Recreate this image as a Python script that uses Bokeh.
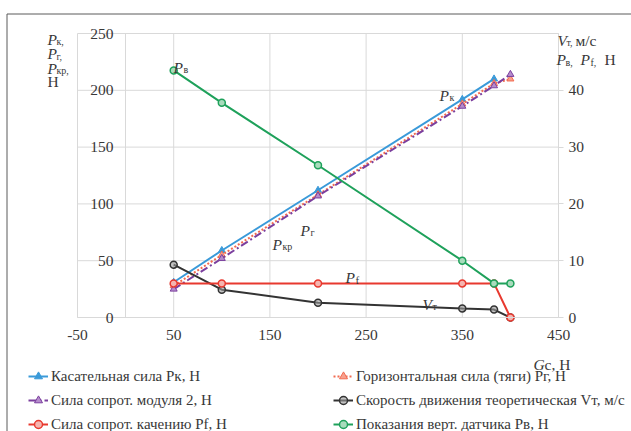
from bokeh.plotting import figure
from bokeh.models import (LinearAxis, Range1d, FixedTicker, Legend,
                          LegendItem, Label)
from bokeh.embed import file_html
from bokeh.resources import INLINE

# ---------------- data ----------------
G_c = [50, 100, 200, 350, 383, 400]
G_k = [50, 100, 200, 350, 383]
P_k = [31, 59, 112, 192, 210]            # left axis, N
P_g = [28, 55, 108, 188, 206, 210]       # left axis, N
P_kr = [25, 52, 107, 186, 204, 214]      # left axis, N
V_t = [9.3, 4.9, 2.6, 1.6, 1.4, 0]       # right axis, m/s
P_f = [6, 6, 6, 6, 6, 0]                 # right axis
P_v = [43.5, 37.8, 26.8, 10, 6, 6]       # right axis

x_ticks = [-50, 50, 150, 250, 350, 450]
y_ticks = [0, 50, 100, 150, 200, 250]
y2_ticks = [0, 10, 20, 30, 40]

names = ["Касательная сила Pк, Н", "Горизонтальная сила (тяги) Pг, Н",
         "Сила сопрот. модуля 2, Н", "Скорость движения теоретическая Vт, м/с",
         "Сила сопрот. качению Pf, Н", "Показания верт. датчика Pв, Н"]

FONT = "Liberation Serif"
TXT = "#383838"
GRID = "#d9d9d9"

# ---------------- layout (page pixels) ----------------
PX0, PY0 = 0, 0            # canvas origin on the page
CW, CH = 631, 431          # canvas size
FL, FR, FT, FB = 77, 558, 33, 317   # chart area on the page
XMIN, XMAX, YMIN, YMAX = -50, 450, 0, 250
kx = (FR - FL) / (XMAX - XMIN)
ky = (FB - FT) / (YMAX - YMIN)

x_range = Range1d(XMIN + (PX0 - FL) / kx, XMIN + (PX0 + CW - FL) / kx)
y_range = Range1d((FB - (PY0 + CH)) / ky, (FB - PY0) / ky)

p = figure(width=CW, height=CH, x_range=x_range, y_range=y_range,
           x_axis_location=None, y_axis_location=None,
           toolbar_location=None, output_backend="svg", min_border=0,
           outline_line_color=None, background_fill_color="white",
           border_fill_color="white")
p.xgrid.visible = False
p.ygrid.visible = False
p.extra_y_ranges = {"right": Range1d(y_range.start / 5, y_range.end / 5)}

# grid lines
p.segment(x0=x_ticks, y0=[YMIN] * len(x_ticks), x1=x_ticks, y1=[YMAX] * len(x_ticks),
          line_color=GRID, line_width=1)
p.segment(x0=[XMIN] * len(y_ticks), y0=y_ticks, x1=[XMAX] * len(y_ticks), y1=y_ticks,
          line_color=GRID, line_width=1)


# outer chart border (top and left)
def page_x(px):
    return XMIN + (px - FL) / kx


def page_y(py):
    return (FB - py) / ky


p.segment(x0=[page_x(6.5), page_x(6.5)], y0=[page_y(13.5), page_y(13.5)],
          x1=[page_x(PX0 + CW), page_x(6.5)], y1=[page_y(13.5), page_y(PY0 + CH)],
          line_color="#5a5a5a", line_width=1)


def style_axis(ax, ticks):
    ax.major_label_text_font = FONT
    ax.major_label_text_font_size = "15.5px"
    ax.major_label_text_color = TXT
    ax.axis_line_color = GRID
    ax.minor_tick_line_color = None
    ax.major_tick_in = 0
    ax.major_label_overrides = {t: str(t) for t in ticks}


xax = LinearAxis(ticker=FixedTicker(ticks=x_ticks), fixed_location=0,
                 bounds=(XMIN, XMAX))
style_axis(xax, x_ticks)
xax.major_tick_out = 0
xax.major_label_standoff = 12
p.add_layout(xax, "below")

yax = LinearAxis(ticker=FixedTicker(ticks=y_ticks), fixed_location=0,
                 bounds=(YMIN, YMAX))
style_axis(yax, y_ticks)
yax.major_tick_out = 0
yax.major_label_standoff = 12
p.add_layout(yax, "left")

y2ax = LinearAxis(y_range_name="right", ticker=FixedTicker(ticks=y2_ticks),
                  fixed_location=XMAX, bounds=(0, 50))
style_axis(y2ax, y2_ticks)
y2ax.major_tick_out = 5
y2ax.major_tick_line_color = GRID
y2ax.major_label_standoff = 5
p.add_layout(y2ax, "right")

# ---------------- series ----------------
c_k, c_g, c_kr, c_v, c_f, c_pv = "#3a9ad9", "#f26b50", "#7b3f9e", "#333333", "#e8392f", "#1fa15b"

l_k = p.line(G_k, P_k, line_color=c_k, line_width=2)
s_k = p.scatter(G_k, P_k, marker="triangle", size=7, line_color=c_k, fill_color=c_k)

l_g = p.line(G_c, P_g, line_color=c_g, line_width=2, line_dash="2 2")
s_g = p.scatter(G_c, P_g, marker="triangle", size=7, line_color=c_g, fill_color="#f7a08e")

l_kr = p.line(G_c, P_kr, line_color=c_kr, line_width=2, line_dash="8 3 2 3")
s_kr = p.scatter(G_c, P_kr, marker="triangle", size=7, line_color=c_kr, fill_color="#b58ccc")

l_v = p.line(G_c, V_t, y_range_name="right", line_color=c_v, line_width=2)
s_v = p.scatter(G_c, V_t, y_range_name="right", marker="circle", size=7,
                line_color=c_v, line_width=1.5, fill_color="#9a9a9a", fill_alpha=0.6)

l_f = p.line(G_c, P_f, y_range_name="right", line_color=c_f, line_width=2)
s_f = p.scatter(G_c, P_f, y_range_name="right", marker="circle", size=7,
                line_color=c_f, line_width=1.5, fill_color="#f5b5b0")

l_pv = p.line(G_c, P_v, y_range_name="right", line_color=c_pv, line_width=2)
s_pv = p.scatter(G_c, P_v, y_range_name="right", marker="circle", size=7,
                 line_color=c_pv, line_width=1.5, fill_color="#a8dcbc")


# ---------------- legends ----------------
def make_legend(items, px_left, py_bottom):
    lg = Legend(items=items, location=(px_left - PX0, PY0 + CH - py_bottom),
                orientation="vertical",
                background_fill_alpha=0, border_line_color=None,
                padding=0, margin=0, spacing=4, glyph_width=20, glyph_height=20,
                label_height=20, label_standoff=3,
                label_text_font=FONT, label_text_font_size="15px",
                label_text_color=TXT)
    p.add_layout(lg)


make_legend([LegendItem(label=names[0], renderers=[l_k, s_k]),
             LegendItem(label=names[2], renderers=[l_kr, s_kr]),
             LegendItem(label=names[4], renderers=[l_f, s_f])], 28, 434)
make_legend([LegendItem(label=names[1], renderers=[l_g, s_g]),
             LegendItem(label=names[3], renderers=[l_v, s_v]),
             LegendItem(label=names[5], renderers=[l_pv, s_pv])], 333, 434)


# ---------------- text annotations (page pixel positions) ----------------
def lab(text, px, py, size=15.5, italic=False):
    p.add_layout(Label(x=px - PX0, y=PY0 + CH - py, x_units="screen", y_units="screen",
                       text=text, text_font=FONT, text_font_size=f"{size}px",
                       text_font_style="italic" if italic else "normal",
                       text_baseline="alphabetic", text_align="left",
                       text_color=TXT))


def psub(main, sub, px, py, dx=10, dy=2.5, sub_size=10):
    lab(main, px, py, 15.5, True)
    lab(sub, px + dx, py + dy, sub_size, False)


# in-plot labels
psub("P", "в", 173, 66.5)
psub("P", "к", 439, 94.5)
psub("P", "f", 345, 276.5, dy=3, sub_size=11)
psub("V", "т", 422, 303.5)
psub("P", "кр", 272, 243.5)
psub("P", "г", 300, 229.5)

# left axis title
psub("P", "к,", 47, 38.5, dx=9)
psub("P", "г,", 47, 53, dx=9)
psub("P", "кр,", 47, 67.5, dx=9)
lab("Н", 47, 80.5)

# right axis title
psub("V", "т,", 557, 39.5, dx=9)
lab("м/с", 575, 40)
psub("P", "в,", 556, 59, dx=9)
psub("P", "f,", 580, 59, dx=10)
lab("Н", 604, 59)

# bottom axis title
lab("G", 533, 364, 15.5, True)
lab("с, Н", 544, 364)

open("out.html", "w").write(file_html(p, INLINE))
